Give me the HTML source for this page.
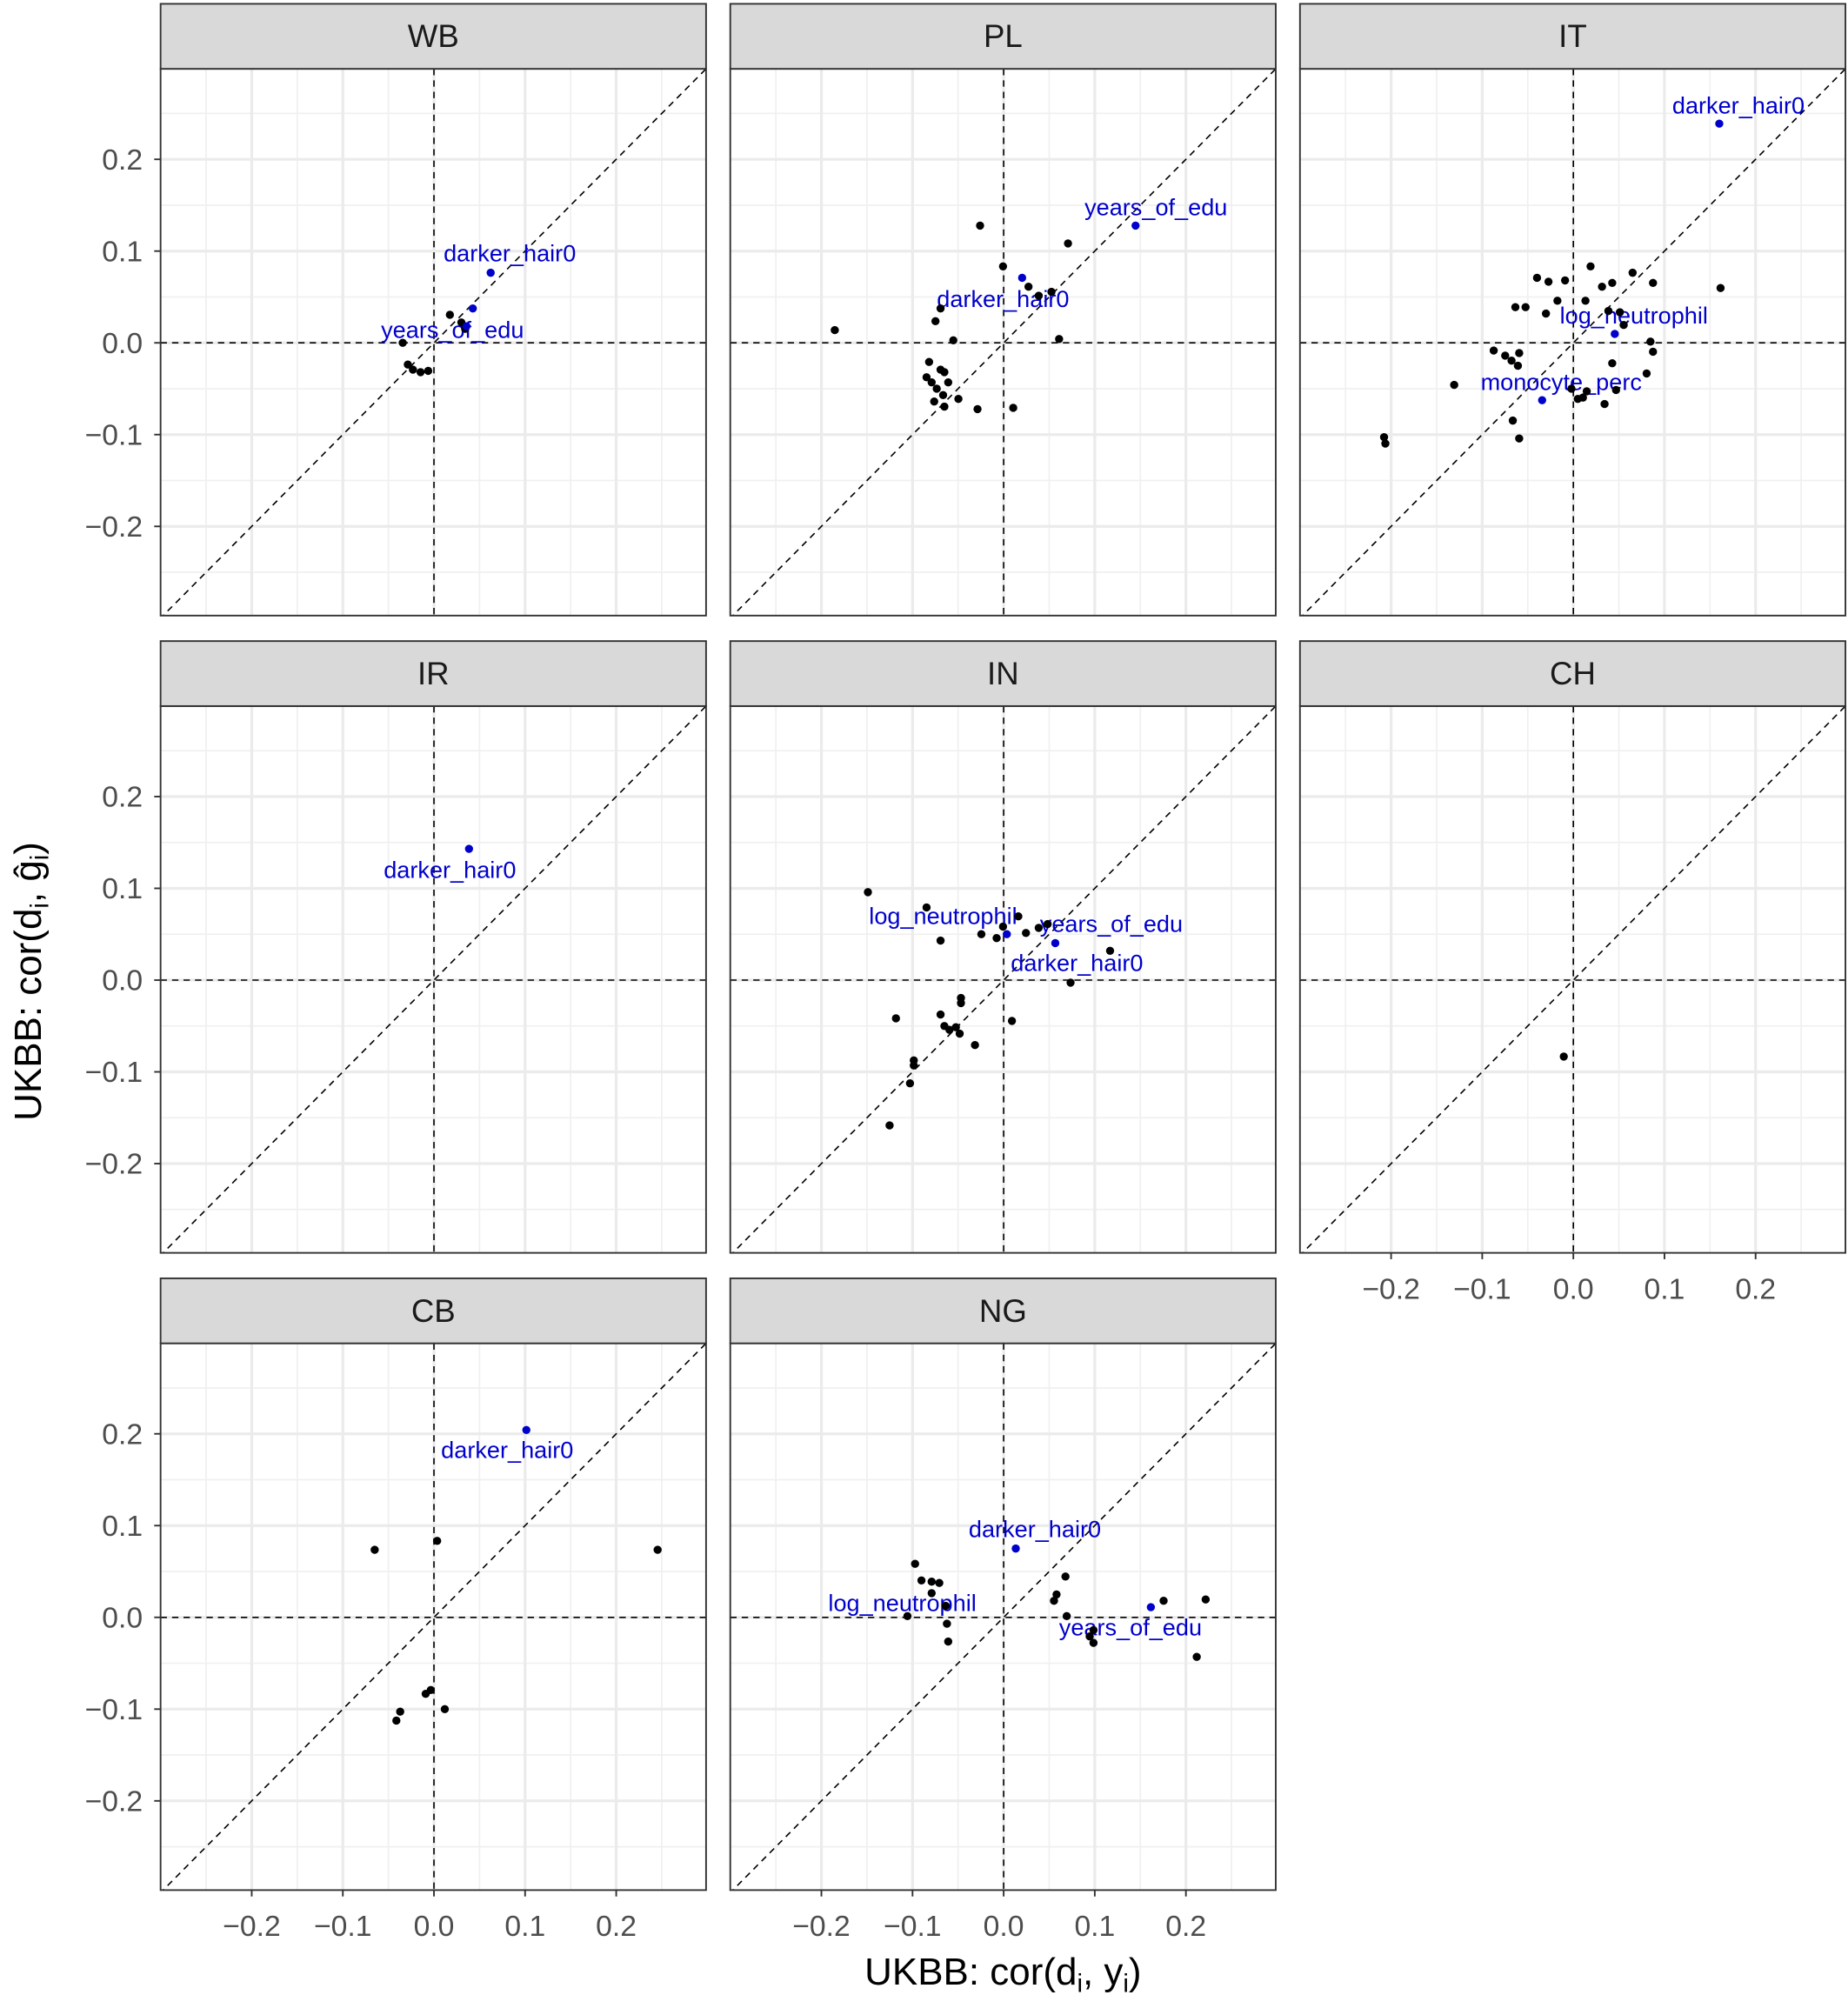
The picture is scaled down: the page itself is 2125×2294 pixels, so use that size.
<!DOCTYPE html>
<html><head><meta charset="utf-8"><style>
html,body{margin:0;padding:0;background:#fff}
svg{display:block}
text{font-family:"Liberation Sans",Arial,sans-serif}
</style></head><body>
<svg id="s" xmlns="http://www.w3.org/2000/svg" width="2125" height="2294" viewBox="0 0 1450 1565.3" preserveAspectRatio="none">
<rect width="1450" height="1566" fill="#fff"/>
<g id="panels"></g>
<g font-size="25" fill="#1a1a1a" text-anchor="middle">
<text x="340" y="37">WB</text><text x="787" y="37">PL</text><text x="1234" y="37">IT</text>
<text x="340" y="537">IR</text><text x="787" y="537">IN</text><text x="1234" y="537">CH</text>
<text x="340" y="1037">CB</text><text x="787" y="1037">NG</text>
</g>
<g font-size="23" fill="#4d4d4d" text-anchor="end">
<text x="112" y="133">0.2</text><text x="112" y="205">0.1</text><text x="112" y="277">0.0</text><text x="112" y="349">−0.1</text><text x="112" y="421">−0.2</text>
<text x="112" y="633">0.2</text><text x="112" y="705">0.1</text><text x="112" y="777">0.0</text><text x="112" y="849">−0.1</text><text x="112" y="921">−0.2</text>
<text x="112" y="1133">0.2</text><text x="112" y="1205">0.1</text><text x="112" y="1277">0.0</text><text x="112" y="1349">−0.1</text><text x="112" y="1421">−0.2</text>
</g>
<g font-size="23" fill="#4d4d4d" text-anchor="middle">
<text x="197.5" y="1519">−0.2</text><text x="269" y="1519">−0.1</text><text x="340.5" y="1519">0.0</text><text x="412" y="1519">0.1</text><text x="483.5" y="1519">0.2</text>
<text x="644.5" y="1519">−0.2</text><text x="716" y="1519">−0.1</text><text x="787.5" y="1519">0.0</text><text x="859" y="1519">0.1</text><text x="930.5" y="1519">0.2</text>
<text x="1091.5" y="1019">−0.2</text><text x="1163" y="1019">−0.1</text><text x="1234.5" y="1019">0.0</text><text x="1306" y="1019">0.1</text><text x="1377.5" y="1019">0.2</text>
</g>
<text x="787" y="1557" font-size="30" fill="#000" text-anchor="middle">UKBB: cor(d<tspan font-size="20" dy="6">i</tspan><tspan dy="-6">, y</tspan><tspan font-size="20" dy="6">i</tspan><tspan dy="-6">)</tspan></text>
<text transform="translate(32,770) rotate(-90)" font-size="30" fill="#000" text-anchor="middle">UKBB: cor(d<tspan font-size="20" dy="6">i</tspan><tspan dy="-6">, </tspan><tspan>ĝ</tspan><tspan font-size="20" dy="6">i</tspan><tspan dy="-6">)</tspan></text>
<g font-size="18.5" fill="#0000cc" text-anchor="middle">
<text x="400" y="205">darker_hair0</text><text x="355" y="265">years_of_edu</text>
<text x="907" y="169">years_of_edu</text><text x="787" y="241">darker_hair0</text>
<text x="1364" y="89">darker_hair0</text><text x="1282" y="254">log_neutrophil</text><text x="1225" y="306">monocyte_perc</text>
<text x="353" y="689">darker_hair0</text>
<text x="740" y="725">log_neutrophil</text><text x="872" y="731">years_of_edu</text><text x="845" y="762">darker_hair0</text>
<text x="398" y="1144">darker_hair0</text>
<text x="812" y="1206">darker_hair0</text><text x="708" y="1264">log_neutrophil</text><text x="887" y="1283">years_of_edu</text>
</g>
<g id="pts"></g>
</svg>
<script>
var NS="http://www.w3.org/2000/svg";
function el(p,t,a){var e=document.createElementNS(NS,t);for(var k in a)e.setAttribute(k,a[k]);p.appendChild(e);return e;}
var P=document.getElementById("panels");
var pos=[[0,0],[447,0],[894,0],[0,500],[447,500],[894,500],[0,1000],[447,1000]];
var xtickRows={6:1,7:1,5:1};
pos.forEach(function(o,i){
 var dx=o[0],dy=o[1],L=126+dx,R=554+dx,T=54+dy,B=483+dy;
 var g=el(P,"g",{});
 var cp=el(g,"clipPath",{id:"c"+i});el(cp,"rect",{x:L,y:T,width:R-L,height:B-T});
 var gg=el(g,"g",{"clip-path":"url(#c"+i+")"});
 [-0.25,-0.15,-0.05,0.05,0.15,0.25].forEach(function(v){
  var x=340.5+dx+715*v,y=269+dy-720*v;
  el(gg,"line",{x1:x,x2:x,y1:T,y2:B,stroke:"#f0f0f0","stroke-width":1.2});
  el(gg,"line",{x1:L,x2:R,y1:y,y2:y,stroke:"#f0f0f0","stroke-width":1.2});});
 [-0.2,-0.1,0,0.1,0.2].forEach(function(v){
  var x=340.5+dx+715*v,y=269+dy-720*v;
  el(gg,"line",{x1:x,x2:x,y1:T,y2:B,stroke:"#ebebeb","stroke-width":2.2});
  el(gg,"line",{x1:L,x2:R,y1:y,y2:y,stroke:"#ebebeb","stroke-width":2.2});});
 var x0=340.5+dx,y0=269+dy;
 var da={stroke:"#000","stroke-width":1.1,"stroke-dasharray":"5,4"};
 el(gg,"line",Object.assign({x1:x0,x2:x0,y1:T,y2:B},da));
 el(gg,"line",Object.assign({x1:L,x2:R,y1:y0,y2:y0},da));
 el(gg,"line",Object.assign({x1:x0-715*0.31,y1:y0+720*0.31,x2:x0+715*0.31,y2:y0-720*0.31},da));
 el(g,"rect",{x:L,y:T,width:R-L,height:B-T,fill:"none",stroke:"#333","stroke-width":1.3});
 el(g,"rect",{x:L,y:T-51,width:R-L,height:51,fill:"#d9d9d9",stroke:"#333","stroke-width":1.3});
 if(dx==0){[-0.2,-0.1,0,0.1,0.2].forEach(function(v){var y=y0-720*v;el(g,"line",{x1:L-5,x2:L,y1:y,y2:y,stroke:"#333","stroke-width":1.3});});}
 if(xtickRows[i]){[-0.2,-0.1,0,0.1,0.2].forEach(function(v){var x=x0+715*v;el(g,"line",{x1:x,x2:x,y1:B,y2:B+5,stroke:"#333","stroke-width":1.3});});}
});
var S=document.getElementById("pts");
var blk=[[316,269],[320,286],[324,290],[330,292],[336,291],[353,247],[362,253],[365,258],
[655,259],[769,177],[838,191],[787,209],[807,225],[815,232],[825,229],[738,242],[734,252],[748,267],[831,266],[727,296],[731,300],[735,305],[741,292],[740,310],[744,300],[733,315],[741,319],[752,313],[767,321],[795,320],[738,290],[729,284],
[1350,226],[1086,343],[1087,348],[1141,302],[1172,275],[1181,279],[1186,283],[1192,277],[1191,287],[1187,330],[1192,344],[1189,241],[1197,241],[1206,218],[1215,221],[1228,220],[1244,236],[1248,209],[1257,225],[1265,222],[1262,244],[1271,245],[1274,255],[1281,214],[1297,222],[1295,268],[1297,276],[1265,285],[1259,317],[1233,305],[1238,313],[1242,312],[1245,307],[1268,306],[1292,293],[1222,236],[1213,246],
[681,700],[727,712],[738,738],[770,733],[782,736],[787,727],[799,719],[805,732],[815,728],[822,725],[871,746],[840,771],[703,799],[717,832],[717,836],[714,850],[698,883],[738,796],[741,805],[745,808],[750,806],[754,783],[754,787],[753,811],[765,820],[794,801],
[1227,829],
[294,1216],[343,1209],[516,1216],[334,1329],[338,1326],[349,1341],[314,1343],[311,1350],
[718,1227],[723,1240],[731,1241],[737,1242],[731,1250],[712,1268],[742,1260],[743,1274],[744,1288],[836,1237],[829,1251],[827,1256],[837,1268],[858,1279],[855,1284],[858,1289],[913,1256],[946,1255],[939,1300]];
var blu=[[385,214],[371,242],[366,256],[891,177],[802,218],[1349,97],[1267,262],[1210,314],[368,666],[790,733],[828,740],[413,1122],[797,1215],[903,1261]];
blk.forEach(function(p){el(S,"circle",{cx:p[0],cy:p[1],r:3.2,fill:"#000"});});
blu.forEach(function(p){el(S,"circle",{cx:p[0],cy:p[1],r:3.2,fill:"#0000cc"});});
</script>
</body></html>
